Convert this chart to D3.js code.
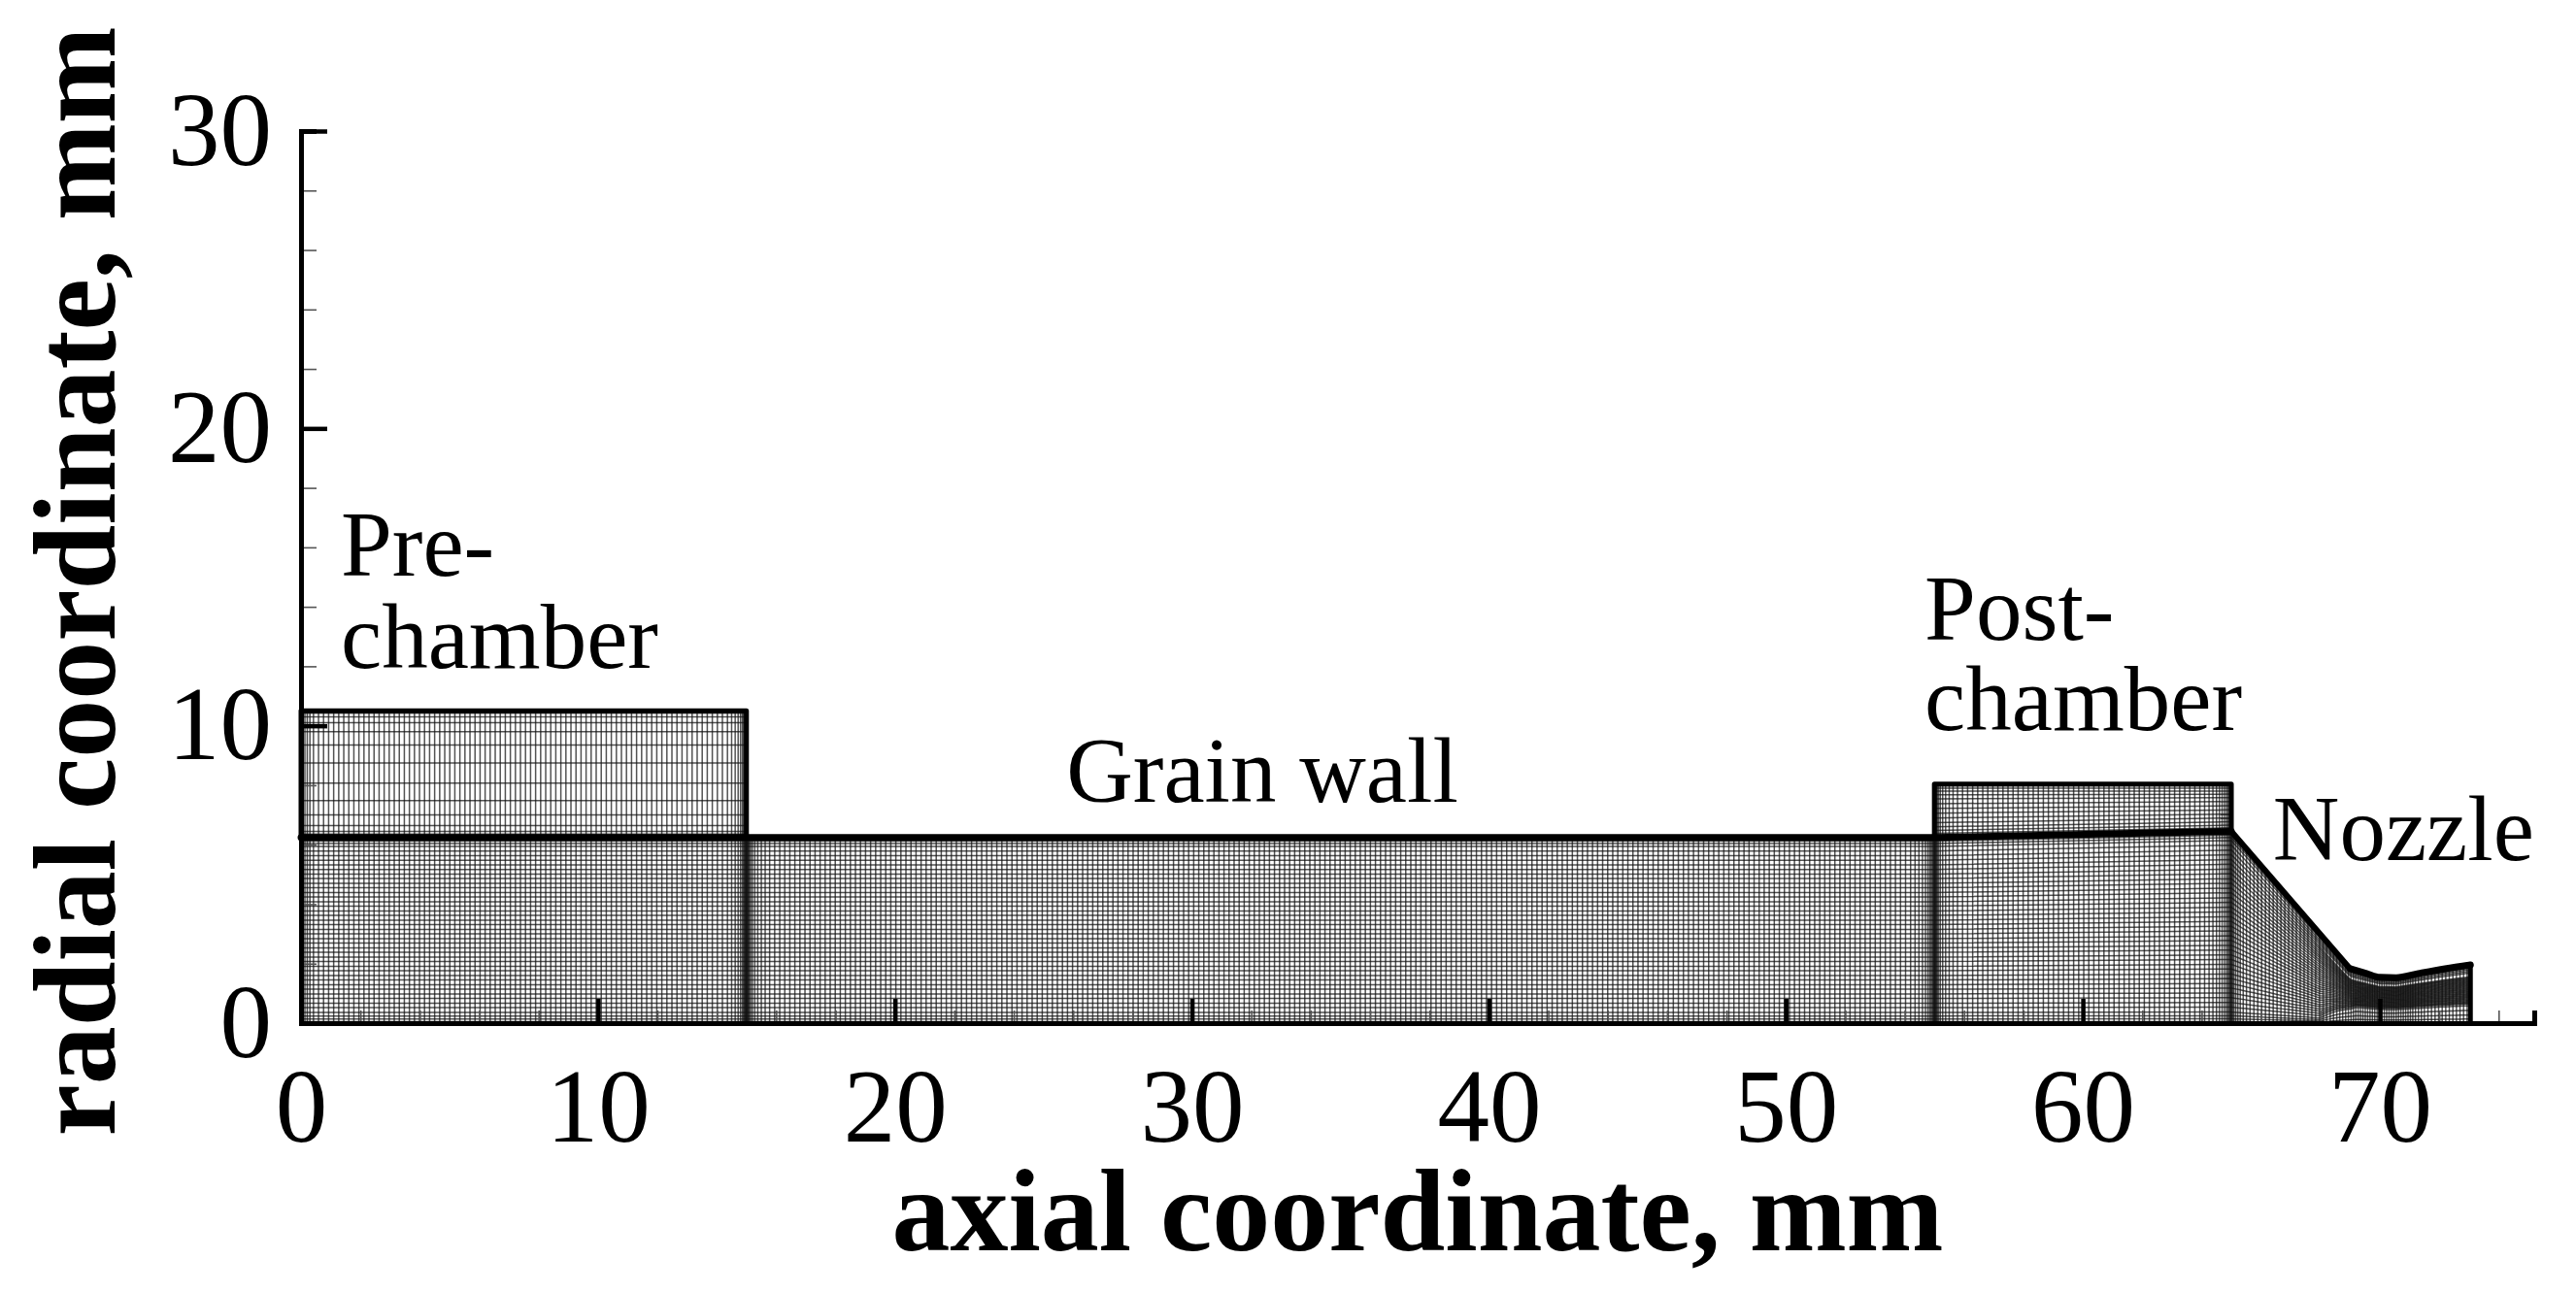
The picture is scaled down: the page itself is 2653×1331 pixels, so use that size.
<!DOCTYPE html>
<html>
	<head>
		<meta charset="utf-8">
		<title>Motor mesh</title>
		<script src="https://d3js.org/d3.v7.min.js"></script>
		<style>
			body {background-color: white; margin: 0;}
			svg {display: block; filter: blur(0.55px);}
			text {font-family: "Liberation Serif", serif; fill: black;}
		</style>
	</head>
	<body>
		<div id="chart"></div>
		<script>
			// tick values
			var xMajor = [0, 10, 20, 30, 40, 50, 60, 70]
			var xMinor = [2, 4, 6, 8, 12, 14, 16, 18, 22, 24, 26, 28, 32, 34, 36, 38, 42, 44, 46, 48, 52, 54, 56, 58, 62, 64, 66, 68, 72, 74]
			var yMajor = [0, 10, 20, 30]
			var yMinor = [2, 4, 6, 8, 12, 14, 16, 18, 22, 24, 26, 28]

			// flow channel wall
			var wallX = [0, 15, 55, 65, 69, 69.55, 70, 70.55, 71.3, 72.2, 73.05]
			var wallR = [6.24, 6.24, 6.24, 6.45, 1.83, 1.67, 1.54, 1.53, 1.67, 1.83, 1.96]

			// chamber walls above the channel
			var preX = [0, 0, 15, 15]
			var preR = [6.24, 10.5, 10.5, 6.24]
			var postX = [55, 55, 65, 65]
			var postR = [6.24, 8.04, 8.04, 6.45]

			// mesh rows
			var channelRows = [0,.05,.14,.24,.36,.52,.67,.83,.98,1.14,1.29,1.45,1.6,1.76,1.91,2.07,2.22,2.38,2.53,2.69,2.84,3,3.15,3.31,3.46,3.62,3.77,3.93,4.08,4.24,4.39,4.55,4.7,4.86,5.01,5.17,5.32,5.48,5.63,5.79,5.94,6.04,6.12,6.18,6.24]
			var throatFractions = [0,.07,.14,.22,.3,.33,.345,.36,.375,.39,.405,.42,.435,.45,.465,.48,.495,.51,.525,.54,.555,.57,.585,.6,.615,.63,.645,.66,.675,.69,.705,.72,.735,.75,.765,.78,.795,.86,.89,.92,.945,.965,.98,.99,1]
			var preRows = [6.24,6.29,6.36,6.45,6.64,7,7.48,8.07,8.75,9.35,9.8,10.1,10.3,10.42,10.5]
			var postRows55 = [6.24,6.3,6.38,6.48,6.6,6.74,6.9,7.06,7.22,7.38,7.54,7.68,7.8,7.9,7.98,8.04]
			var postRows65 = [6.45,6.5,6.57,6.66,6.77,6.9,7.03,7.17,7.31,7.45,7.58,7.7,7.8,7.9,7.98,8.04]

			// mesh columns, one list per block
			var preColumns = [0,.06,.13,.21,.3,.42,.59,.76,.93,1.1,1.27,1.44,1.61,1.78,1.95,2.12,2.29,2.46,2.63,2.8,2.97,3.14,3.31,3.48,3.65,3.82,3.99,4.16,4.33,4.5,4.67,4.84,5.01,5.18,5.35,5.52,5.69,5.86,6.03,6.2,6.37,6.54,6.71,6.88,7.05,7.22,7.39,7.56,7.73,7.9,8.07,8.24,8.41,8.58,8.75,8.92,9.09,9.26,9.43,9.6,9.77,9.94,10.11,10.28,10.45,10.62,10.79,10.96,11.13,11.3,11.47,11.64,11.81,11.98,12.15,12.32,12.49,12.66,12.83,13,13.17,13.34,13.51,13.68,13.85,14.02,14.19,14.36,14.5,14.62,14.72,14.8,14.86,14.9,14.93,14.95,14.97,14.99,15]
			var grainColumns = [15.01,15.03,15.05,15.07,15.1,15.14,15.2,15.28,15.38,15.5,15.63,15.78,15.95,16.12,16.29,16.46,16.63,16.8,16.97,17.14,17.31,17.48,17.65,17.82,17.99,18.16,18.33,18.5,18.67,18.84,19.01,19.18,19.35,19.52,19.69,19.86,20.03,20.2,20.37,20.54,20.71,20.88,21.05,21.22,21.39,21.56,21.73,21.9,22.07,22.24,22.41,22.58,22.75,22.92,23.09,23.26,23.43,23.6,23.77,23.94,24.11,24.28,24.45,24.62,24.79,24.96,25.13,25.3,25.47,25.64,25.81,25.98,26.15,26.32,26.49,26.66,26.83,27,27.17,27.34,27.51,27.68,27.85,28.02,28.19,28.36,28.53,28.7,28.87,29.04,29.21,29.38,29.55,29.72,29.89,30.06,30.23,30.4,30.57,30.74,30.91,31.08,31.25,31.42,31.59,31.76,31.93,32.1,32.27,32.44,32.61,32.78,32.95,33.12,33.29,33.46,33.63,33.8,33.97,34.14,34.31,34.48,34.65,34.82,34.99,35.16,35.33,35.5,35.67,35.84,36.01,36.18,36.35,36.52,36.69,36.86,37.03,37.2,37.37,37.54,37.71,37.88,38.05,38.22,38.39,38.56,38.73,38.9,39.07,39.24,39.41,39.58,39.75,39.92,40.09,40.26,40.43,40.6,40.77,40.94,41.11,41.28,41.45,41.62,41.79,41.96,42.13,42.3,42.47,42.64,42.81,42.98,43.15,43.32,43.49,43.66,43.83,44,44.17,44.34,44.51,44.68,44.85,45.02,45.19,45.36,45.53,45.7,45.87,46.04,46.21,46.38,46.55,46.72,46.89,47.06,47.23,47.4,47.57,47.74,47.91,48.08,48.25,48.42,48.59,48.76,48.93,49.1,49.27,49.44,49.61,49.78,49.95,50.12,50.29,50.46,50.63,50.8,50.97,51.14,51.31,51.48,51.65,51.82,51.99,52.16,52.33,52.5,52.67,52.84,53.01,53.18,53.35,53.52,53.69,53.86,54.03,54.2,54.35,54.48,54.6,54.7,54.78,54.84,54.89,54.93,54.96,54.98,55]
			var postColumns = [55.01,55.03,55.05,55.07,55.1,55.14,55.2,55.28,55.38,55.5,55.63,55.78,55.95,56.12,56.29,56.46,56.63,56.8,56.97,57.14,57.31,57.48,57.65,57.82,57.99,58.16,58.33,58.5,58.67,58.84,59.01,59.18,59.35,59.52,59.69,59.86,60.03,60.2,60.37,60.54,60.71,60.88,61.05,61.22,61.39,61.56,61.73,61.9,62.07,62.24,62.41,62.58,62.75,62.92,63.09,63.26,63.43,63.6,63.77,63.94,64.1,64.25,64.38,64.5,64.6,64.69,64.77,64.84,64.89,64.93,64.96,64.98,65]
			var nozzleColumns = [65.02,65.05,65.09,65.15,65.22,65.3,65.4,65.51,65.63,65.76,65.89,66.02,66.15,66.28,66.41,66.54,66.67,66.8,66.93,67.06,67.19,67.32,67.45,67.58,67.71,67.84,67.97,68.09,68.21,68.33,68.44,68.55,68.65,68.75,68.85,68.94,69.03,69.11,69.19,69.27,69.35,69.43,69.51,69.59,69.67,69.75,69.83,69.91,69.99,70.07,70.15,70.23,70.31,70.39,70.47,70.55,70.63,70.71,70.79,70.87,70.95,71.03,71.11,71.2,71.3,71.4,71.5,71.62,71.74,71.86,71.98,72.1,72.22,72.34,72.46,72.58,72.7,72.82,72.94,73.05]

			// labels
			var regionNames = ["Pre-", "chamber", "Grain wall", "Post-", "chamber", "Nozzle"]
			var regionX = [1.34, 1.34, 25.77, 54.67, 54.67, 66.4]
			var regionY = [15.05, 11.95, 7.45, 12.9, 9.85, 5.5]

			var x = d3.scaleLinear().domain([0, 75.2]).range([310, 2610])
			var y = d3.scaleLinear().domain([0, 30]).range([1054, 135])
			var wall = d3.scaleLinear().domain(wallX).range(wallR)
			var nozzleMix = d3.scaleLinear().domain([68, 69.2]).range([0, 1]).clamp(true)

			var svg = d3.select("#chart").append("svg")
				.attr("width", 2653)
				.attr("height", 1331)

			var line = d3.line()
				.x(function(d){ return x(d[0]) })
				.y(function(d){ return y(d[1]) })

			// columns of every block
			var allColumns = preColumns.concat(grainColumns, postColumns, nozzleColumns)
			var mesh = allColumns.map(function(c){ return [[c, 0], [c, wall(c)]] })
			preColumns.forEach(function(c){ mesh.push([[c, 6.24], [c, 10.5]]) })
			postColumns.forEach(function(c){ mesh.push([[c, wall(c)], [c, 8.04]]) })

			// rows follow the wall, nozzle rows shift towards the throat spacing
			var rowStations = [0, 15, 55, 65].concat(nozzleColumns)
			channelRows.forEach(function(r, i){
				var row = rowStations.map(function(c){
					var m = nozzleMix(c)
					return [c, wall(c) * ((1 - m) * r / 6.24 + m * throatFractions[i])]
				})
				mesh.push(row)
			})
			preRows.forEach(function(r){ mesh.push([[0, r], [15, r]]) })
			postRows55.forEach(function(r, i){ mesh.push([[55, r], [65, postRows65[i]]]) })

			// separate paths so that crowded lines build up to black
			svg.append("g").selectAll("path")
				.data(mesh)
				.enter()
				.append("path")
				.attr("d", line)
				.attr("fill", "none")
				.attr("stroke", "#111")
				.attr("stroke-opacity", 0.72)
				.attr("stroke-width", 1.5)

			// walls: straight up to the nozzle knee, smooth through the throat
			var wallPoints = wallX.map(function(c, i){ return [c, wallR[i]] })
			var smoothLine = d3.line()
				.x(function(d){ return x(d[0]) })
				.y(function(d){ return y(d[1]) })
				.curve(d3.curveMonotoneX)

			function drawWall(d, width){
				svg.append("path")
					.attr("d", d)
					.attr("fill", "none")
					.attr("stroke", "black")
					.attr("stroke-width", width)
					.attr("stroke-linejoin", "round")
					.attr("stroke-linecap", "round")
			}
			drawWall(line(preX.map(function(c, i){ return [c, preR[i]] })), 5)
			drawWall(line(postX.map(function(c, i){ return [c, postR[i]] })), 5)
			drawWall(line(wallPoints.slice(0, 4)), 7)
			drawWall(line(wallPoints.slice(3, 5)), 6)
			drawWall(smoothLine(wallPoints.slice(4)), 7)
			drawWall(line([[wallX[wallX.length - 1], 0], [wallX[wallX.length - 1], wallR[wallR.length - 1]]]), 5)

			// axes, ticks point inwards
			var xMinorAxis = d3.axisBottom(x).tickValues(xMinor).tickSize(-13).tickFormat("")
			var yMinorAxis = d3.axisLeft(y).tickValues(yMinor).tickSize(-16).tickFormat("")
			var xAxis = d3.axisBottom(x).tickValues(xMajor).tickSizeInner(-25).tickSizeOuter(0).tickPadding(46).tickFormat(d3.format("d"))
			var yAxis = d3.axisLeft(y).tickValues(yMajor).tickSizeInner(-27).tickSizeOuter(0).tickPadding(30).tickFormat(d3.format("d"))

			function drawAxis(axis, transform, width, colour){
				var g = svg.append("g").attr("transform", transform).call(axis)
				g.selectAll("line").attr("stroke", colour).attr("stroke-width", width)
				g.select(".domain").attr("stroke", "black").attr("stroke-width", 5)
				g.selectAll("text").style("font-family", '"Liberation Serif", serif').style("font-size", "107px").attr("fill", "black")
				return g
			}
			drawAxis(xMinorAxis, "translate(0,1054)", 1.6, "#555")
			drawAxis(yMinorAxis, "translate(310,0)", 1.6, "#555")
			drawAxis(xAxis, "translate(0,1054)", 4.5, "black")
			drawAxis(yAxis, "translate(310,0)", 4.5, "black")

			// region names
			svg.selectAll(".region")
				.data(regionNames)
				.enter()
				.append("text")
				.attr("class", "region")
				.attr("x", function(d, i){ return x(regionX[i]) })
				.attr("y", function(d, i){ return y(regionY[i]) })
				.style("font-size", "95px")
				.text(function(d){ return d })

			svg.append("text")
				.attr("x", 1460)
				.attr("y", 1288)
				.attr("text-anchor", "middle")
				.style("font-size", "120px")
				.style("font-weight", "bold")
				.text("axial coordinate, mm")

			svg.append("text")
				.attr("transform", "translate(118,599) rotate(-90)")
				.attr("text-anchor", "middle")
				.style("font-size", "120px")
				.style("font-weight", "bold")
				.text("radial coordinate, mm")
		</script>
	</body>
</html>
